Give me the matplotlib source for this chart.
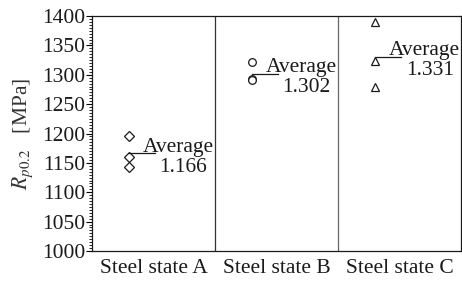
import matplotlib
matplotlib.use("Agg")
import matplotlib.pyplot as plt
from matplotlib.ticker import MultipleLocator

# data
states = ["Steel state A", "Steel state B", "Steel state C"]
rp_a = [1195, 1160, 1143]
rp_b = [1322, 1293, 1291]
rp_c = [1390, 1323, 1280]
averages = [1166, 1302, 1331]
avg_labels = ["1.166", "1.302", "1.331"]
markers = ["D", "o", "^"]

plt.rcParams["font.family"] = ["Liberation Serif", "DejaVu Serif"]
plt.rcParams["mathtext.fontset"] = "stix"

fig = plt.figure(figsize=(4.62, 2.82), dpi=100)
ax = fig.add_axes([0.199, 0.110, 0.799, 0.833])

ink = "#1a1a1a"
fs = 15.5
for i, vals in enumerate([rp_a, rp_b, rp_c]):
    xs = [i + 0.3] * len(vals)
    ax.plot(xs, vals, linestyle="none", marker=markers[i], markersize=5.5,
            markerfacecolor="white", markeredgecolor=ink, markeredgewidth=0.9)
    ax.plot([i + 0.3, i + 0.51], [averages[i], averages[i]], color=ink, lw=0.9)
    ax.text(i + 0.41, averages[i] + 3, "Average", fontsize=fs, color=ink,
            ha="left", va="baseline")
    ax.text(i + 0.55, averages[i] - 7, avg_labels[i], fontsize=fs, color=ink,
            ha="left", va="top")

ax.axvline(1, color="#333333", lw=0.9)
ax.axvline(2, color="#666666", lw=0.9)

ax.set_xlim(0, 3)
ax.set_ylim(1000, 1400)
ax.set_xticks([0.5, 1.5, 2.5])
ax.set_xticklabels(states, fontsize=fs, color=ink)
ax.tick_params(axis="x", length=0, pad=6)
ax.yaxis.set_major_locator(MultipleLocator(50))
ax.yaxis.set_minor_locator(MultipleLocator(5))
ax.tick_params(axis="y", which="major", direction="out", length=4, width=0.8,
               labelsize=fs, labelcolor=ink, pad=1)
ax.tick_params(axis="y", which="minor", direction="out", length=2.5, width=0.6)
for s in ax.spines.values():
    s.set_color(ink)
    s.set_linewidth(0.9)

ax.set_ylabel(r"$R_{p0.2}$   [MPa]", fontsize=15.5, color="#333333", labelpad=5)

fig.savefig("out.png", dpi=100)
